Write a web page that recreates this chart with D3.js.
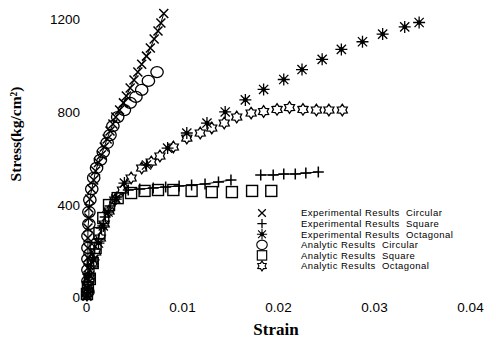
<!DOCTYPE html>
<html>
<head>
<meta charset="utf-8">
<script src="https://cdn.jsdelivr.net/npm/d3@7"></script>
<style>
html,body{margin:0;padding:0;background:#fff;}
svg{display:block;}
</style>
</head>
<body>
<svg id="chart" width="496" height="341"></svg>
<script>
// ---- data ----
const xTicks = [0, 0.01, 0.02, 0.03, 0.04];
const xTickLabels = ["0", "0.01", "0.02", "0.03", "0.04"];
const yTicks = [0, 400, 800, 1200];
const yTickLabels = ["0", "400", "800", "1200"];
const xTitle = "Strain";
const yTitle = "Stress(kg/cm\u00B2)";

const expCircularStrain = [0.0001,0.0001,0.0001,0.0002,0.0002,0.0002,0.0002,0.0002,0.0003,0.0003,0.0004,0.0006,0.0008,0.0010,0.0013,0.0016,0.0019,0.0022,0.0025,0.0028,0.0031,0.0035,0.0039,0.0042,0.0046,0.0050,0.0054,0.0058,0.0063,0.0067,0.0071,0.0075,0.0078,0.0081];
const expCircularStress = [6,41,84,127,171,214,257,300,343,386,425,468,507,546,583,615,650,684,719,749,779,809,840,870,904,939,973,1007,1042,1077,1116,1150,1185,1226];

const expSquareStrain = [0.0001,0.0002,0.0002,0.0003,0.0005,0.0007,0.0009,0.0013,0.0016,0.0020,0.0025,0.0032,0.0044,0.0056,0.0070,0.0083,0.0097,0.0110,0.0124,0.0138,0.0151,null,0.0182,0.0195,0.0206,0.0218,0.0229,0.0242];
const expSquareStress = [6,37,67,101,136,171,209,253,300,347,395,434,464,468,473,477,481,486,490,499,507,null,529,529,533,533,537,542];

const expOctagonalStrain = [0.0001,0.0002,0.0004,0.0008,0.0013,0.0018,0.0023,0.0031,0.0040,0.0063,0.0085,0.0105,0.0126,0.0145,0.0166,0.0185,0.0206,0.0225,0.0246,0.0266,0.0288,0.0309,0.0332,0.0347];
const expOctagonalStress = [11,41,93,162,235,309,369,425,494,572,645,710,753,801,853,898,941,984,1028,1071,1104,1137,1168,1187];

const anaCircularStrain = [0.0002,0.0002,0.0002,0.0002,0.0002,0.0002,0.0003,0.0003,0.0004,0.0006,0.0008,0.0011,0.0015,0.0018,0.0022,0.0025,0.0028,0.0033,0.0040,0.0046,0.0052,0.0058,0.0065,0.0074];
const anaCircularStress = [24,71,119,166,214,265,317,369,421,468,516,559,594,628,667,701,740,779,809,840,866,896,935,973];

const anaSquareStrain = [0.0001,0.0002,0.0004,0.0007,0.0010,0.0014,0.0018,0.0024,0.0033,0.0047,0.0061,0.0075,0.0091,0.0110,0.0131,0.0152,0.0173,0.0193];
const anaSquareStress = [15,45,80,149,214,278,343,399,429,451,460,464,464,460,455,455,460,460];

const anaOctagonalStrain = [0.0001,0.0002,0.0004,0.0007,0.0010,0.0015,0.0019,0.0024,0.0030,0.0038,0.0047,0.0058,0.0068,0.0077,0.0091,0.0105,0.0119,0.0131,0.0144,0.0157,0.0172,0.0185,0.0199,0.0212,0.0226,0.0240,0.0253,0.0267];
const anaOctagonalStress = [15,50,93,145,196,257,317,373,421,464,516,559,585,611,650,688,710,732,753,779,796,803,812,820,812,809,809,809];

const legendLabels = [
  "Experimental Results  Circular",
  "Experimental Results  Square",
  "Experimental Results  Octagonal",
  "Analytic Results  Circular",
  "Analytic Results  Square",
  "Analytic Results  Octagonal"
];
const markerTypes = ["cross", "plus", "asterisk", "circle", "square", "hexagram"];

// ---- build ----
const svg = d3.select("#chart");
const x = d3.scaleLinear().domain([0, 0.04]).range([86, 470]);
const y = d3.scaleLinear().domain([0, 1200]).range([297.5, 19.5]);

function zip(a, b) { return a.map((v, i) => (v === null || b[i] === null) ? null : [v, b[i]]); }

const series = [
  {pts: zip(expCircularStrain, expCircularStress), m: markerTypes[0], line: true},
  {pts: zip(expSquareStrain, expSquareStress), m: markerTypes[1], line: true},
  {pts: zip(expOctagonalStrain, expOctagonalStress), m: markerTypes[2], line: false},
  {pts: zip(anaCircularStrain, anaCircularStress), m: markerTypes[3], line: false},
  {pts: zip(anaSquareStrain, anaSquareStress), m: markerTypes[4], line: false},
  {pts: zip(anaOctagonalStrain, anaOctagonalStress), m: markerTypes[5], line: false}
];

function hexStar(ro, ri) {
  const p = [];
  for (let k = 0; k < 12; k++) {
    const r = k % 2 === 0 ? ro : ri;
    const a = -Math.PI / 2 + k * Math.PI / 6;
    p.push([r * Math.cos(a), r * Math.sin(a)]);
  }
  return "M" + p.map(q => q[0].toFixed(2) + "," + q[1].toFixed(2)).join("L") + "Z";
}

function drawMarker(g, type) {
  const st = "#000";
  if (type === "cross") {
    const r = 4.5;
    g.append("path").attr("d", `M${-r},${-r}L${r},${r}M${-r},${r}L${r},${-r}`)
      .attr("stroke", st).attr("stroke-width", 1.5).attr("fill", "none");
  } else if (type === "plus") {
    const r = 5.5;
    g.append("path").attr("d", `M${-r},0H${r}M0,${-r}V${r}`)
      .attr("stroke", st).attr("stroke-width", 1.5).attr("fill", "none");
  } else if (type === "asterisk") {
    const r = 6, d = 4.6;
    g.append("path").attr("d", `M${-r},0H${r}M0,${-r}V${r}M${-d},${-d}L${d},${d}M${-d},${d}L${d},${-d}`)
      .attr("stroke", st).attr("stroke-width", 1.3).attr("fill", "none");
    g.append("circle").attr("r", 2.3).attr("fill", st);
  } else if (type === "circle") {
    g.append("ellipse").attr("rx", 6.2).attr("ry", 5.5)
      .attr("stroke", st).attr("stroke-width", 1.3).attr("fill", "none");
  } else if (type === "square") {
    g.append("rect").attr("x", -5.5).attr("y", -5.5).attr("width", 11).attr("height", 11)
      .attr("stroke", st).attr("stroke-width", 1.4).attr("fill", "none");
  } else if (type === "hexagram") {
    g.append("path").attr("d", hexStar(5.8, 3.6))
      .attr("stroke", st).attr("stroke-width", 1.3).attr("fill", "none");
  }
}

const lineGen = d3.line().defined(d => d !== null).x(d => x(d[0])).y(d => y(d[1]));

const plot = svg.append("g");
series.forEach(s => {
  if (s.line) {
    plot.append("path").datum(s.pts).attr("d", lineGen)
      .attr("fill", "none").attr("stroke", "#000").attr("stroke-width", 1);
  }
});
[3, 4, 5, 0, 1, 2].forEach(i => {
  const s = series[i];
  plot.selectAll(null).data(s.pts.filter(d => d !== null)).enter().append("g")
    .attr("transform", d => `translate(${x(d[0])},${y(d[1])})`)
    .each(function () { drawMarker(d3.select(this), s.m); });
});

// x axis (labels only)
const xAxis = d3.axisBottom(x).tickValues(xTicks).tickFormat((d, i) => xTickLabels[i]).tickSize(0).tickPadding(0);
const gx = svg.append("g").attr("transform", "translate(0,297)").call(xAxis);
gx.select(".domain").remove();
gx.selectAll("text").attr("font-family", "Arial, 'Liberation Sans', sans-serif").attr("font-size", 13.5)
  .attr("fill", "#000").attr("y", 15).attr("dy", 0);

// y axis (labels only)
const yAxis = d3.axisLeft(y).tickValues(yTicks).tickFormat((d, i) => yTickLabels[i]).tickSize(0).tickPadding(6);
const gy = svg.append("g").attr("transform", "translate(86,0)").call(yAxis);
gy.select(".domain").remove();
gy.selectAll("text").attr("font-family", "Arial, 'Liberation Sans', sans-serif").attr("font-size", 13.5).attr("fill", "#000");

// titles
svg.append("text").attr("x", 276).attr("y", 335).attr("text-anchor", "middle")
  .attr("font-family", "'Liberation Serif', 'Times New Roman', serif").attr("font-weight", "bold").attr("font-size", 17)
  .text(xTitle);
svg.append("text").attr("transform", "translate(21,134) rotate(-90)").attr("text-anchor", "middle")
  .attr("font-family", "'Liberation Serif', 'Times New Roman', serif").attr("font-weight", "bold").attr("font-size", 15.5)
  .text(yTitle);

// legend
const leg = svg.append("g");
legendLabels.forEach((lab, i) => {
  const yy = 213 + i * 10.6;
  const g = leg.append("g").attr("transform", `translate(262,${yy})`);
  const mg = g.append("g").attr("transform", "scale(0.85)");
  drawMarker(mg, markerTypes[i]);
  g.append("text").attr("x", 39).attr("y", 3.3).attr("font-family", "Arial, 'Liberation Sans', sans-serif")
    .attr("font-size", 9.5).attr("letter-spacing", 0.45).attr("fill", "#000")
    .attr("xml:space", "preserve").style("white-space", "pre").text(lab);
});
</script>
</body>
</html>
